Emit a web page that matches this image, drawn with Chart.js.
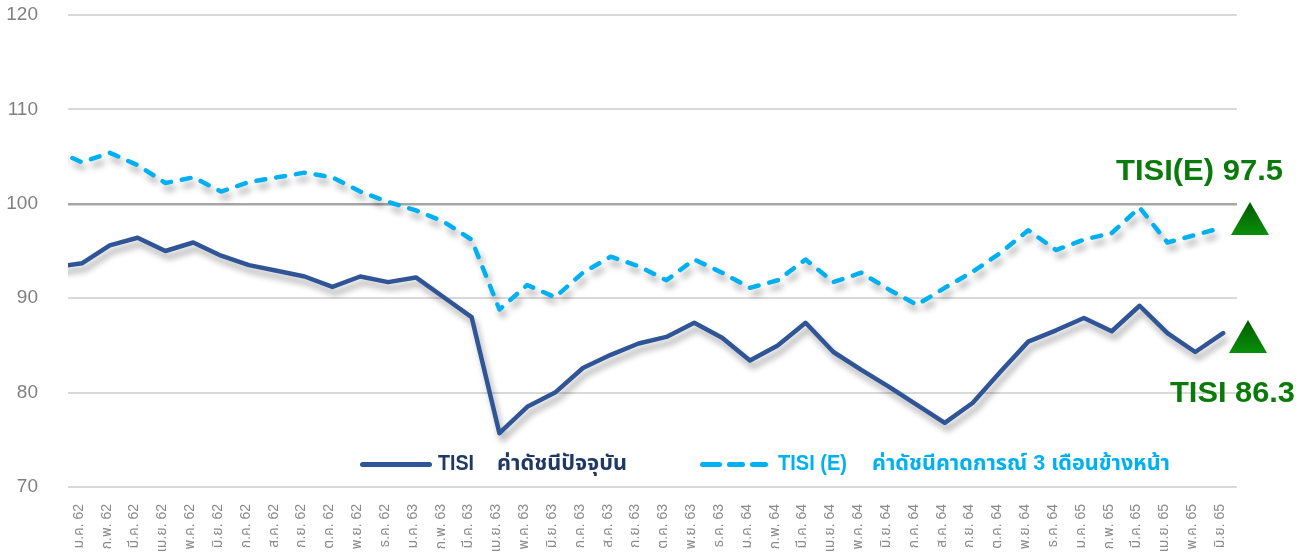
<!DOCTYPE html>
<html>
<head>
<meta charset="utf-8">
<script src="https://cdn.jsdelivr.net/npm/chart.js@4.4.1/dist/chart.umd.min.js"></script>
<style>
html,body{margin:0;padding:0;width:1296px;height:556px;overflow:hidden;background:#fff;}
#wrap{position:relative;width:1296px;height:600px;}
#c{position:absolute;left:0;top:0;}
.fit{position:absolute;white-space:nowrap;transform-origin:0 50%;line-height:26px;height:26px;top:450px;
  font-family:'Liberation Sans Narrow','Liberation Sans','Noto Sans Thai','Noto Sans',sans-serif;font-weight:bold;font-size:22px;}
.ann{position:absolute;white-space:nowrap;transform-origin:0 50%;line-height:30px;height:30px;
  font-family:'Liberation Sans','Noto Sans',sans-serif;font-weight:bold;font-size:30px;color:#0a7a0a;}
.sw{position:absolute;height:5px;border-radius:3px;}
.tri{position:absolute;width:38px;height:33px;clip-path:polygon(50% 0,100% 100%,0 100%);
  background:linear-gradient(#005c00,#0a8f0a);}
</style>
</head>
<body>
<div id="wrap">
  <canvas id="c" width="1296" height="600"></canvas>

  <div class="sw" style="left:360px;top:462px;width:72px;background:#2f5597;"></div>
  <div class="fit" data-w="36" style="left:438px;color:#1f3864;">TISI</div>
  <div class="fit" data-w="130" style="left:497px;color:#1f3864;">ค่าดัชนีปัจจุบัน</div>

  <div class="sw" style="left:700px;top:462px;width:22px;background:#00b0f0;"></div>
  <div class="sw" style="left:727px;top:462px;width:18px;background:#00b0f0;"></div>
  <div class="sw" style="left:750px;top:462px;width:18px;background:#00b0f0;"></div>
  <div class="fit" data-w="69" style="left:778px;color:#00b0f0;">TISI (E)</div>
  <div class="fit" data-w="298" style="left:872px;color:#00b0f0;">ค่าดัชนีคาดการณ์ 3 เดือนข้างหน้า</div>

  <div class="ann" data-w="167" style="left:1116px;top:155px;">TISI(E) 97.5</div>
  <div class="ann" data-w="125" style="left:1170px;top:377px;">TISI 86.3</div>
  <div class="tri" style="left:1231px;top:202px;"></div>
  <div class="tri" style="left:1229px;top:320px;"></div>
</div>

<script>
// Month labels (index 0 = ธ.ค. 61, only its line segment entering from the left edge is visible)
const months = ['ธ.ค. 61',
  'ม.ค. 62','ก.พ. 62','มี.ค. 62','เม.ย. 62','พ.ค. 62','มิ.ย. 62','ก.ค. 62','ส.ค. 62','ก.ย. 62','ต.ค. 62','พ.ย. 62','ธ.ค. 62',
  'ม.ค. 63','ก.พ. 63','มี.ค. 63','เม.ย. 63','พ.ค. 63','มิ.ย. 63','ก.ค. 63','ส.ค. 63','ก.ย. 63','ต.ค. 63','พ.ย. 63','ธ.ค. 63',
  'ม.ค. 64','ก.พ. 64','มี.ค. 64','เม.ย. 64','พ.ค. 64','มิ.ย. 64','ก.ค. 64','ส.ค. 64','ก.ย. 64','ต.ค. 64','พ.ย. 64','ธ.ค. 64',
  'ม.ค. 65','ก.พ. 65','มี.ค. 65','เม.ย. 65','พ.ค. 65','มิ.ย. 65'];

// TISI – current index
const tisi = [93.3,
  93.7, 95.6, 96.4, 95.0, 95.9, 94.5, 93.5, 92.9, 92.3, 91.2, 92.3, 91.7,
  92.2, 90.1, 88.0, 75.7, 78.5, 80.0, 82.6, 84.0, 85.2, 85.9, 87.4, 85.8,
  83.4, 85.0, 87.4, 84.3, 82.4, 80.6, 78.7, 76.8, 78.9, 82.2, 85.4, 86.6,
  87.9, 86.5, 89.2, 86.3, 84.3, 86.3];

// TISI (E) – 3-month-ahead expectation index
const tisiE = [105.7,
  104.4, 105.4, 104.1, 102.2, 102.8, 101.3, 102.3, 102.8, 103.3, 102.8, 101.3, 100.2,
  99.3, 98.1, 96.2, 88.8, 91.4, 90.1, 92.7, 94.4, 93.4, 91.9, 94.1, 92.7,
  91.1, 91.9, 94.1, 91.7, 92.7, 90.9, 89.3, 91.1, 92.8, 94.8, 97.2, 95.1,
  96.2, 96.9, 99.6, 95.9, 96.7, 97.5];

const yTicks = [70, 80, 90, 100, 110, 120];

const toPts = arr => arr.map((v, i) => ({x: i, y: v}));

const shadow = {
  id: 'shadow',
  beforeDatasetDraw(chart) {
    const c = chart.ctx;
    c.save();
    c.shadowColor = 'rgba(0,0,0,0.33)';
    c.shadowBlur = 6;
    c.shadowOffsetX = 3;
    c.shadowOffsetY = 6;
  },
  afterDatasetDraw(chart) { chart.ctx.restore(); }
};

new Chart(document.getElementById('c'), {
  type: 'line',
  data: {
    datasets: [
      {label: 'TISI (E)', data: toPts(tisiE), borderColor: '#00b0f0', borderWidth: 4.5,
       borderDash: [9, 11], borderCapStyle: 'round', borderJoinStyle: 'round', pointRadius: 0, tension: 0},
      {label: 'TISI', data: toPts(tisi), borderColor: '#2f5597', borderWidth: 4.5,
       borderCapStyle: 'round', borderJoinStyle: 'round', pointRadius: 0, tension: 0}
    ]
  },
  options: {
    responsive: false,
    animation: false,
    layout: {padding: {top: 15, right: 59, left: 0, bottom: 0}},
    plugins: {legend: {display: false}, tooltip: {enabled: false}},
    scales: {
      x: {
        type: 'linear', min: 0.5, max: months.length - 0.5,
        afterBuildTicks: s => { s.ticks = months.map((m, i) => ({value: i})).filter(t => t.value >= 1); },
        afterFit: s => { s.height = 600 - 487; s.paddingLeft = 0; s.paddingRight = 0; },
        grid: {display: false, drawTicks: false},
        border: {display: false},
        ticks: {
          autoSkip: false, minRotation: 90, maxRotation: 90, padding: 17, labelOffset: -3,
          color: '#8a8a8a',
          font: {size: 14, family: "'Liberation Sans','Noto Sans Thai','Noto Sans',sans-serif"},
          callback: v => months[v]
        }
      },
      y: {
        min: 70, max: 120,
        afterBuildTicks: s => { s.ticks = yTicks.map(v => ({value: v})); },
        afterFit: s => { s.width = 68; s.paddingTop = 0; s.paddingBottom = 0; },
        grid: {
          drawTicks: false,
          color: c => c.tick && c.tick.value === 100 ? '#a6a6a6' : '#d9d9d9',
          lineWidth: c => c.tick && c.tick.value === 100 ? 2.5 : 2
        },
        border: {display: false},
        ticks: {padding: 30, color: '#808080', font: {size: 19, family: "'Liberation Sans',sans-serif"}}
      }
    }
  },
  plugins: [shadow]
});

function fitTexts() {
  document.querySelectorAll('[data-w]').forEach(el => {
    el.style.transform = 'none';
    const w = el.getBoundingClientRect().width;
    const t = parseFloat(el.dataset.w);
    if (w > 0) el.style.transform = 'scaleX(' + (t / w) + ')';
  });
}
fitTexts();
if (document.fonts && document.fonts.ready) document.fonts.ready.then(fitTexts);
</script>
</body>
</html>
